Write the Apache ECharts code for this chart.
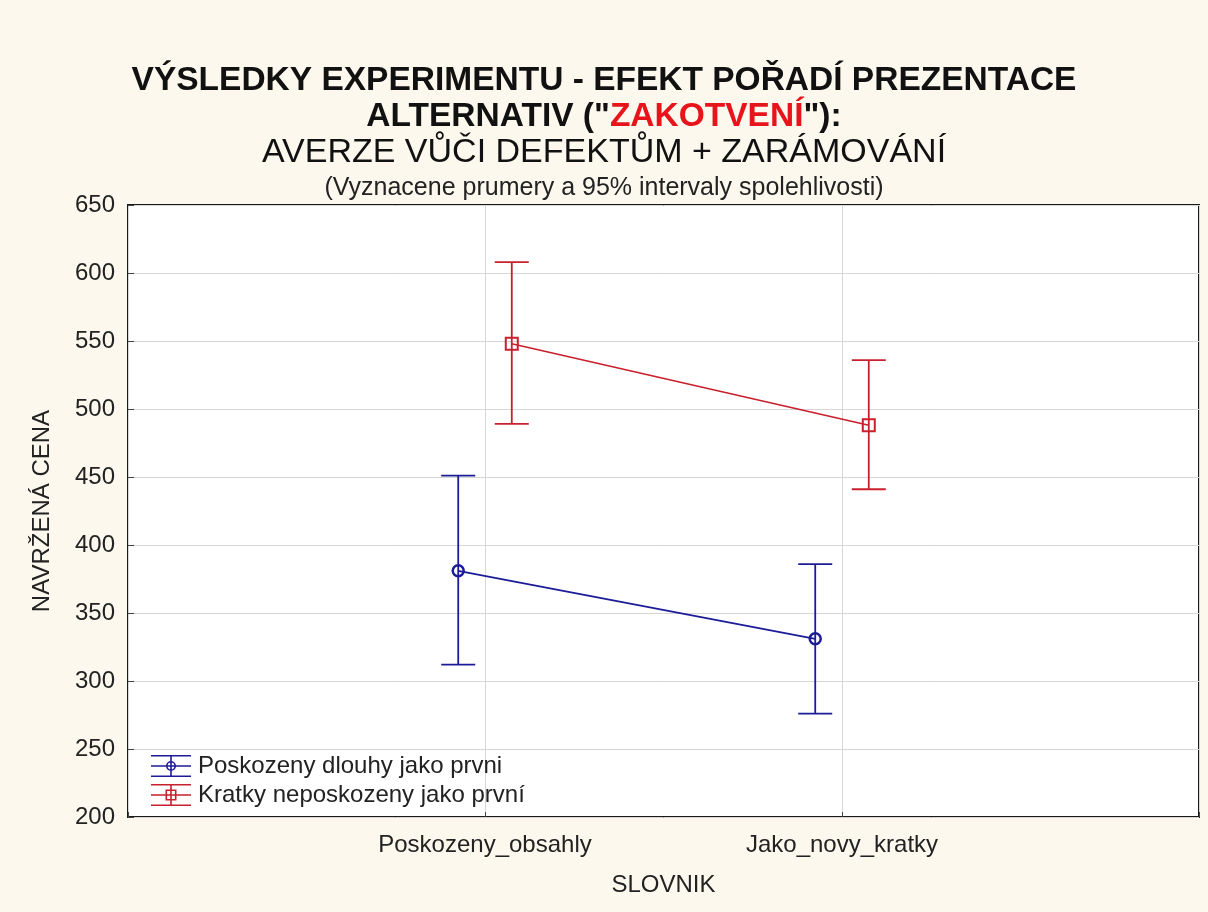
<!DOCTYPE html>
<html lang="cs">
<head>
    <meta charset="UTF-8">
    <title>Výsledky experimentu</title>
    <script src="https://cdn.jsdelivr.net/npm/echarts@6/dist/echarts.min.js"></script>
    <style>
        html, body { margin: 0; padding: 0; background: #fcf8ee; }
        #main { width: 1208px; height: 912px; }
    </style>
</head>
<body>
<div id="main"></div>
<script>
    // kategorie (SLOVNIK)
    var categories = ['Poskozeny_obsahly', 'Jako_novy_kratky'];
    var seriesNames = ['Poskozeny dlouhy jako prvni', 'Kratky neposkozeny jako první'];

    // prumery a 95% intervaly
    var blueMean = [381, 331];
    var blueLow = [312, 276];
    var blueHigh = [451, 386];

    var redMean = [548, 488];
    var redLow = [489, 441];
    var redHigh = [608, 536];

    var yTicks = [200, 650, 50]; // min, max, krok

    var blue = '#1c1c98';
    var red = '#c8202c';
    var shift = 0.075;  // posun skupin vedle kategorie

    function points(mean, dx) {
        return mean.map(function (v, i) { return [i + 1 + dx, v]; });
    }
    function bars(low, high, dx) {
        return low.map(function (v, i) { return [i + 1 + dx, v, high[i]]; });
    }

    function errorBar(color) {
        return function (params, api) {
            var x = api.value(0);
            var lo = api.coord([x, api.value(1)]);
            var hi = api.coord([x, api.value(2)]);
            var w = 17;
            var st = { stroke: color, lineWidth: 1.8 };
            return {
                type: 'group',
                children: [
                    { type: 'line', shape: { x1: lo[0], y1: lo[1], x2: hi[0], y2: hi[1] }, style: st },
                    { type: 'line', shape: { x1: hi[0] - w, y1: hi[1], x2: hi[0] + w, y2: hi[1] }, style: st },
                    { type: 'line', shape: { x1: lo[0] - w, y1: lo[1], x2: lo[0] + w, y2: lo[1] }, style: st }
                ]
            };
        };
    }

    // ikony legendy (chybova usecka + znacka)
    var lines = 'M0,0H40V1.6H0Z M0,10.2H40V11.8H0Z M0,20.4H40V22H0Z M19.2,0H20.8V22H19.2Z ';
    var circleIcon = 'path://' + lines +
        'M15,11A5,5 0 1,1 25,11A5,5 0 1,1 15,11Z M16.6,11A3.4,3.4 0 1,0 23.4,11A3.4,3.4 0 1,0 16.6,11Z';
    var squareIcon = 'path://' + lines +
        'M14.5,5.5H25.5V16.5H14.5Z M16.1,7.1V14.9H23.9V7.1Z';

    var myChart = echarts.init(document.getElementById('main'));

    var option = {
        backgroundColor: '#fcf8ee',
        textStyle: { fontFamily: 'Liberation Sans, Arial, sans-serif' },
        title: [{
            text: '{b|VÝSLEDKY EXPERIMENTU - EFEKT POŘADÍ PREZENTACE}\n' +
                '{b|ALTERNATIV ("}{r|ZAKOTVENÍ}{b|"):}\n' +
                '{n|AVERZE VŮČI DEFEKTŮM + ZARÁMOVÁNÍ}',
            left: 'center',
            top: 58,
            textStyle: {
                align: 'center',
                rich: {
                    b: { fontSize: 33.5, fontWeight: 'bold', color: '#111', lineHeight: 36 },
                    r: { fontSize: 33.5, fontWeight: 'bold', color: '#e8141c', lineHeight: 36 },
                    n: { fontSize: 34, fontWeight: 'normal', color: '#111', lineHeight: 36 }
                }
            }
        }, {
            text: '(Vyznacene prumery a 95% intervaly spolehlivosti)',
            left: 'center',
            top: 171,
            textStyle: { fontSize: 25, fontWeight: 'normal', color: '#222' }
        }],
        legend: {
            orient: 'vertical',
            left: 146,
            top: 749,
            itemWidth: 40,
            itemHeight: 22,
            itemGap: 5,
            textStyle: { fontSize: 24, color: '#222', padding: [0, 0, 0, 2] },
            data: [
                { name: seriesNames[0], icon: circleIcon, itemStyle: { color: blue, borderWidth: 0 } },
                { name: seriesNames[1], icon: squareIcon, itemStyle: { color: red, borderWidth: 0 } }
            ]
        },
        grid: {
            left: 128,
            right: 9,
            top: 205,
            bottom: 95,
            show: true,
            backgroundColor: '#ffffff',
            borderColor: '#1a1a1a',
            borderWidth: 2
        },
        xAxis: {
            type: 'value',
            min: 0,
            max: 3,
            interval: 1,
            name: 'SLOVNIK',
            nameLocation: 'middle',
            nameGap: 56,
            nameTextStyle: { fontSize: 24, color: '#222' },
            axisLine: { show: false },
            axisTick: { inside: true, length: 5, lineStyle: { color: '#444' } },
            axisLabel: {
                fontSize: 24,
                color: '#222',
                margin: 16,
                formatter: function (v) { return categories[v - 1] || ''; }
            },
            splitLine: { lineStyle: { color: '#d6d6d6', width: 1 } }
        },
        yAxis: {
            type: 'value',
            min: yTicks[0],
            max: yTicks[1],
            interval: yTicks[2],
            name: 'NAVRŽENÁ CENA',
            nameLocation: 'middle',
            nameGap: 74,
            nameTextStyle: { fontSize: 24, color: '#222' },
            axisLine: { show: false },
            axisTick: { inside: true, length: 6, lineStyle: { color: '#444' } },
            axisLabel: { fontSize: 24, color: '#222', margin: 13 },
            splitLine: { lineStyle: { color: '#d6d6d6', width: 1 } }
        },
        series: [
            {
                name: seriesNames[0],
                type: 'custom',
                renderItem: errorBar(blue),
                encode: { x: 0, y: [1, 2] },
                data: bars(blueLow, blueHigh, -shift),
                z: 2
            },
            {
                name: seriesNames[0],
                type: 'line',
                data: points(blueMean, -shift),
                symbol: 'circle',
                symbolSize: 11,
                lineStyle: { color: blue, width: 1.6 },
                itemStyle: { color: 'rgba(0,0,0,0)', borderColor: blue, borderWidth: 2.5 },
                z: 3
            },
            {
                name: seriesNames[1],
                type: 'custom',
                renderItem: errorBar(red),
                encode: { x: 0, y: [1, 2] },
                data: bars(redLow, redHigh, shift),
                z: 2
            },
            {
                name: seriesNames[1],
                type: 'line',
                data: points(redMean, shift),
                symbol: 'rect',
                symbolSize: 12,
                lineStyle: { color: red, width: 1.6 },
                itemStyle: { color: 'rgba(0,0,0,0)', borderColor: red, borderWidth: 2 },
                z: 3
            }
        ]
    };

    myChart.setOption(option);
</script>
</body>
</html>
